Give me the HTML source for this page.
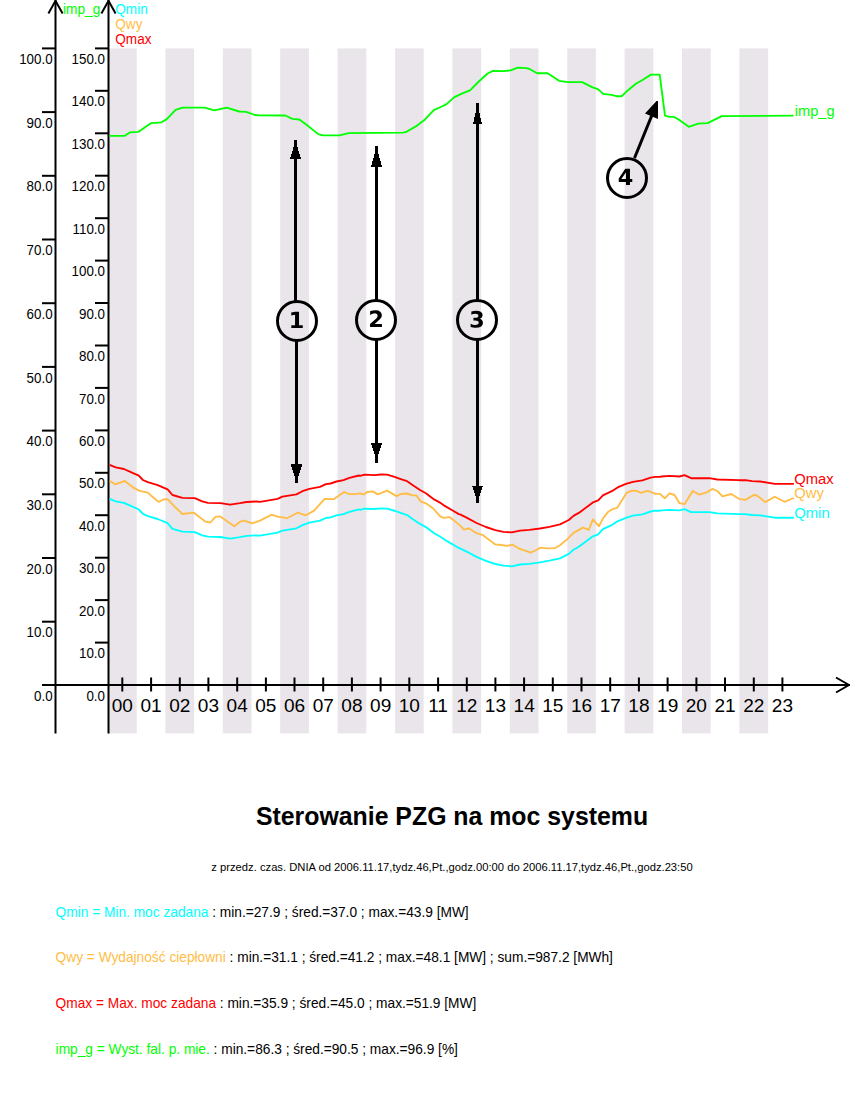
<!DOCTYPE html>
<html><head><meta charset="utf-8"><title>Sterowanie PZG na moc systemu</title>
<style>
html,body{margin:0;padding:0;background:#fff;}
body{width:850px;height:1100px;overflow:hidden;position:relative;font-family:"Liberation Sans",sans-serif;}
svg{position:absolute;left:0;top:0;}
text{font-family:"Liberation Sans",sans-serif;}
</style></head><body>
<svg width="850" height="1100" viewBox="0 0 850 1100">
<defs>
<pattern id="dith" x="0" y="0" width="2" height="2" patternUnits="userSpaceOnUse">
<rect x="0" y="0" width="2" height="2" fill="#ebe6eb"/>
<rect x="0" y="1" width="1" height="1" fill="#e5e3e5"/>
</pattern>
</defs>

<rect x="108.00" y="48.4" width="28.70" height="685.0" fill="url(#dith)"/>
<rect x="165.40" y="48.4" width="28.70" height="685.0" fill="url(#dith)"/>
<rect x="222.80" y="48.4" width="28.70" height="685.0" fill="url(#dith)"/>
<rect x="280.20" y="48.4" width="28.70" height="685.0" fill="url(#dith)"/>
<rect x="337.60" y="48.4" width="28.70" height="685.0" fill="url(#dith)"/>
<rect x="395.00" y="48.4" width="28.70" height="685.0" fill="url(#dith)"/>
<rect x="452.40" y="48.4" width="28.70" height="685.0" fill="url(#dith)"/>
<rect x="509.80" y="48.4" width="28.70" height="685.0" fill="url(#dith)"/>
<rect x="567.20" y="48.4" width="28.70" height="685.0" fill="url(#dith)"/>
<rect x="624.60" y="48.4" width="28.70" height="685.0" fill="url(#dith)"/>
<rect x="682.00" y="48.4" width="28.70" height="685.0" fill="url(#dith)"/>
<rect x="739.40" y="48.4" width="28.70" height="685.0" fill="url(#dith)"/>
<g stroke="#000" stroke-width="2" fill="none">
<line x1="55.5" y1="0" x2="55.5" y2="733.4"/>
<line x1="108.5" y1="0" x2="108.5" y2="733.4"/>
<polyline points="48.4,13.5 55.5,0.8 62.6,13.5"/>
<polyline points="101.4,13.5 108.5,0.8 115.6,13.5"/>
<line x1="42" y1="685.0" x2="850" y2="685.0"/>
<polyline points="836,677.5 849,685 836,692.5"/>
<line x1="42" y1="48.4" x2="55.5" y2="48.4"/>
<line x1="42" y1="112.1" x2="55.5" y2="112.1"/>
<line x1="42" y1="175.8" x2="55.5" y2="175.8"/>
<line x1="42" y1="239.5" x2="55.5" y2="239.5"/>
<line x1="42" y1="303.2" x2="55.5" y2="303.2"/>
<line x1="42" y1="366.9" x2="55.5" y2="366.9"/>
<line x1="42" y1="430.6" x2="55.5" y2="430.6"/>
<line x1="42" y1="494.3" x2="55.5" y2="494.3"/>
<line x1="42" y1="558.0" x2="55.5" y2="558.0"/>
<line x1="42" y1="621.7" x2="55.5" y2="621.7"/>
<line x1="95" y1="48.4" x2="108.5" y2="48.4"/>
<line x1="95" y1="90.8" x2="108.5" y2="90.8"/>
<line x1="95" y1="133.3" x2="108.5" y2="133.3"/>
<line x1="95" y1="175.7" x2="108.5" y2="175.7"/>
<line x1="95" y1="218.2" x2="108.5" y2="218.2"/>
<line x1="95" y1="260.6" x2="108.5" y2="260.6"/>
<line x1="95" y1="303.0" x2="108.5" y2="303.0"/>
<line x1="95" y1="345.5" x2="108.5" y2="345.5"/>
<line x1="95" y1="387.9" x2="108.5" y2="387.9"/>
<line x1="95" y1="430.4" x2="108.5" y2="430.4"/>
<line x1="95" y1="472.8" x2="108.5" y2="472.8"/>
<line x1="95" y1="515.2" x2="108.5" y2="515.2"/>
<line x1="95" y1="557.7" x2="108.5" y2="557.7"/>
<line x1="95" y1="600.1" x2="108.5" y2="600.1"/>
<line x1="95" y1="642.6" x2="108.5" y2="642.6"/>
<line x1="122.3" y1="677.5" x2="122.3" y2="691.5"/>
<line x1="151.1" y1="677.5" x2="151.1" y2="691.5"/>
<line x1="179.8" y1="677.5" x2="179.8" y2="691.5"/>
<line x1="208.4" y1="677.5" x2="208.4" y2="691.5"/>
<line x1="237.2" y1="677.5" x2="237.2" y2="691.5"/>
<line x1="265.9" y1="677.5" x2="265.9" y2="691.5"/>
<line x1="294.5" y1="677.5" x2="294.5" y2="691.5"/>
<line x1="323.2" y1="677.5" x2="323.2" y2="691.5"/>
<line x1="351.9" y1="677.5" x2="351.9" y2="691.5"/>
<line x1="380.6" y1="677.5" x2="380.6" y2="691.5"/>
<line x1="409.3" y1="677.5" x2="409.3" y2="691.5"/>
<line x1="438.1" y1="677.5" x2="438.1" y2="691.5"/>
<line x1="466.8" y1="677.5" x2="466.8" y2="691.5"/>
<line x1="495.4" y1="677.5" x2="495.4" y2="691.5"/>
<line x1="524.1" y1="677.5" x2="524.1" y2="691.5"/>
<line x1="552.8" y1="677.5" x2="552.8" y2="691.5"/>
<line x1="581.5" y1="677.5" x2="581.5" y2="691.5"/>
<line x1="610.2" y1="677.5" x2="610.2" y2="691.5"/>
<line x1="638.9" y1="677.5" x2="638.9" y2="691.5"/>
<line x1="667.6" y1="677.5" x2="667.6" y2="691.5"/>
<line x1="696.4" y1="677.5" x2="696.4" y2="691.5"/>
<line x1="725.0" y1="677.5" x2="725.0" y2="691.5"/>
<line x1="753.8" y1="677.5" x2="753.8" y2="691.5"/>
<line x1="782.4" y1="677.5" x2="782.4" y2="691.5"/>
</g>
<text transform="translate(52.60,64.00) scale(0.9550,1)" x="0" y="0" font-size="14.00" text-anchor="end" fill="#000">100.0</text>
<text transform="translate(52.60,127.70) scale(0.9550,1)" x="0" y="0" font-size="14.00" text-anchor="end" fill="#000">90.0</text>
<text transform="translate(52.60,191.40) scale(0.9550,1)" x="0" y="0" font-size="14.00" text-anchor="end" fill="#000">80.0</text>
<text transform="translate(52.60,255.10) scale(0.9550,1)" x="0" y="0" font-size="14.00" text-anchor="end" fill="#000">70.0</text>
<text transform="translate(52.60,318.80) scale(0.9550,1)" x="0" y="0" font-size="14.00" text-anchor="end" fill="#000">60.0</text>
<text transform="translate(52.60,382.50) scale(0.9550,1)" x="0" y="0" font-size="14.00" text-anchor="end" fill="#000">50.0</text>
<text transform="translate(52.60,446.20) scale(0.9550,1)" x="0" y="0" font-size="14.00" text-anchor="end" fill="#000">40.0</text>
<text transform="translate(52.60,509.90) scale(0.9550,1)" x="0" y="0" font-size="14.00" text-anchor="end" fill="#000">30.0</text>
<text transform="translate(52.60,573.60) scale(0.9550,1)" x="0" y="0" font-size="14.00" text-anchor="end" fill="#000">20.0</text>
<text transform="translate(52.60,637.30) scale(0.9550,1)" x="0" y="0" font-size="14.00" text-anchor="end" fill="#000">10.0</text>
<text transform="translate(52.60,701.00) scale(0.9550,1)" x="0" y="0" font-size="14.00" text-anchor="end" fill="#000">0.0</text>
<text transform="translate(105.00,64.00) scale(0.9550,1)" x="0" y="0" font-size="14.00" text-anchor="end" fill="#000">150.0</text>
<text transform="translate(105.00,106.44) scale(0.9550,1)" x="0" y="0" font-size="14.00" text-anchor="end" fill="#000">140.0</text>
<text transform="translate(105.00,148.88) scale(0.9550,1)" x="0" y="0" font-size="14.00" text-anchor="end" fill="#000">130.0</text>
<text transform="translate(105.00,191.32) scale(0.9550,1)" x="0" y="0" font-size="14.00" text-anchor="end" fill="#000">120.0</text>
<text transform="translate(105.00,233.76) scale(0.9550,1)" x="0" y="0" font-size="14.00" text-anchor="end" fill="#000">110.0</text>
<text transform="translate(105.00,276.20) scale(0.9550,1)" x="0" y="0" font-size="14.00" text-anchor="end" fill="#000">100.0</text>
<text transform="translate(105.00,318.64) scale(0.9550,1)" x="0" y="0" font-size="14.00" text-anchor="end" fill="#000">90.0</text>
<text transform="translate(105.00,361.08) scale(0.9550,1)" x="0" y="0" font-size="14.00" text-anchor="end" fill="#000">80.0</text>
<text transform="translate(105.00,403.52) scale(0.9550,1)" x="0" y="0" font-size="14.00" text-anchor="end" fill="#000">70.0</text>
<text transform="translate(105.00,445.96) scale(0.9550,1)" x="0" y="0" font-size="14.00" text-anchor="end" fill="#000">60.0</text>
<text transform="translate(105.00,488.40) scale(0.9550,1)" x="0" y="0" font-size="14.00" text-anchor="end" fill="#000">50.0</text>
<text transform="translate(105.00,530.84) scale(0.9550,1)" x="0" y="0" font-size="14.00" text-anchor="end" fill="#000">40.0</text>
<text transform="translate(105.00,573.28) scale(0.9550,1)" x="0" y="0" font-size="14.00" text-anchor="end" fill="#000">30.0</text>
<text transform="translate(105.00,615.72) scale(0.9550,1)" x="0" y="0" font-size="14.00" text-anchor="end" fill="#000">20.0</text>
<text transform="translate(105.00,658.16) scale(0.9550,1)" x="0" y="0" font-size="14.00" text-anchor="end" fill="#000">10.0</text>
<text transform="translate(105.00,700.60) scale(0.9550,1)" x="0" y="0" font-size="14.00" text-anchor="end" fill="#000">0.0</text>
<text transform="translate(122.35,711.50) scale(1.0600,1)" x="0" y="0" font-size="18.00" text-anchor="middle" fill="#000">00</text>
<text transform="translate(151.05,711.50) scale(1.0600,1)" x="0" y="0" font-size="18.00" text-anchor="middle" fill="#000">01</text>
<text transform="translate(179.75,711.50) scale(1.0600,1)" x="0" y="0" font-size="18.00" text-anchor="middle" fill="#000">02</text>
<text transform="translate(208.45,711.50) scale(1.0600,1)" x="0" y="0" font-size="18.00" text-anchor="middle" fill="#000">03</text>
<text transform="translate(237.15,711.50) scale(1.0600,1)" x="0" y="0" font-size="18.00" text-anchor="middle" fill="#000">04</text>
<text transform="translate(265.85,711.50) scale(1.0600,1)" x="0" y="0" font-size="18.00" text-anchor="middle" fill="#000">05</text>
<text transform="translate(294.55,711.50) scale(1.0600,1)" x="0" y="0" font-size="18.00" text-anchor="middle" fill="#000">06</text>
<text transform="translate(323.25,711.50) scale(1.0600,1)" x="0" y="0" font-size="18.00" text-anchor="middle" fill="#000">07</text>
<text transform="translate(351.95,711.50) scale(1.0600,1)" x="0" y="0" font-size="18.00" text-anchor="middle" fill="#000">08</text>
<text transform="translate(380.65,711.50) scale(1.0600,1)" x="0" y="0" font-size="18.00" text-anchor="middle" fill="#000">09</text>
<text transform="translate(409.35,711.50) scale(1.0600,1)" x="0" y="0" font-size="18.00" text-anchor="middle" fill="#000">10</text>
<text transform="translate(438.05,711.50) scale(1.0600,1)" x="0" y="0" font-size="18.00" text-anchor="middle" fill="#000">11</text>
<text transform="translate(466.75,711.50) scale(1.0600,1)" x="0" y="0" font-size="18.00" text-anchor="middle" fill="#000">12</text>
<text transform="translate(495.45,711.50) scale(1.0600,1)" x="0" y="0" font-size="18.00" text-anchor="middle" fill="#000">13</text>
<text transform="translate(524.15,711.50) scale(1.0600,1)" x="0" y="0" font-size="18.00" text-anchor="middle" fill="#000">14</text>
<text transform="translate(552.85,711.50) scale(1.0600,1)" x="0" y="0" font-size="18.00" text-anchor="middle" fill="#000">15</text>
<text transform="translate(581.55,711.50) scale(1.0600,1)" x="0" y="0" font-size="18.00" text-anchor="middle" fill="#000">16</text>
<text transform="translate(610.25,711.50) scale(1.0600,1)" x="0" y="0" font-size="18.00" text-anchor="middle" fill="#000">17</text>
<text transform="translate(638.95,711.50) scale(1.0600,1)" x="0" y="0" font-size="18.00" text-anchor="middle" fill="#000">18</text>
<text transform="translate(667.65,711.50) scale(1.0600,1)" x="0" y="0" font-size="18.00" text-anchor="middle" fill="#000">19</text>
<text transform="translate(696.35,711.50) scale(1.0600,1)" x="0" y="0" font-size="18.00" text-anchor="middle" fill="#000">20</text>
<text transform="translate(725.05,711.50) scale(1.0600,1)" x="0" y="0" font-size="18.00" text-anchor="middle" fill="#000">21</text>
<text transform="translate(753.75,711.50) scale(1.0600,1)" x="0" y="0" font-size="18.00" text-anchor="middle" fill="#000">22</text>
<text transform="translate(782.45,711.50) scale(1.0600,1)" x="0" y="0" font-size="18.00" text-anchor="middle" fill="#000">23</text>
<text transform="translate(63.00,13.80) scale(0.9150,1)" x="0" y="0" font-size="15.00" text-anchor="start" fill="#00ff00">imp_g</text>
<text transform="translate(115.30,13.80) scale(0.9500,1)" x="0" y="0" font-size="14.30" text-anchor="start" fill="#00ffff">Qmin</text>
<text transform="translate(115.30,28.80) scale(0.9500,1)" x="0" y="0" font-size="14.30" text-anchor="start" fill="#ffbd46">Qwy</text>
<text transform="translate(115.30,43.90) scale(0.9500,1)" x="0" y="0" font-size="14.30" text-anchor="start" fill="#ff0000">Qmax</text>
<g fill="none" stroke-width="1.85" stroke-linejoin="round">
<polyline stroke="#00ff00" points="109.4,135.9 124.4,135.9 129.7,132.4 138.5,131.8 150.9,123.2 161.5,122.3 166.8,119.1 175.6,109.8 182.6,107.6 204.7,107.6 214.4,110.3 226.8,107.6 239.1,111.5 246.2,111.9 255.0,115.0 259.4,115.3 285.3,115.5 292.4,118.8 299.4,119.5 306.5,124.7 318.2,134.1 322.9,135.3 339.4,135.3 348.8,133.2 402.9,132.6 406.5,131.8 417.1,125.6 424.1,120.3 433.8,110.1 441.8,106.5 446.2,104.4 454.1,97.4 461.2,93.8 470.0,90.3 478.8,81.5 487.6,73.5 492.9,70.9 503.5,71.2 510.6,70.4 517.6,67.7 526.5,68.2 530.0,69.2 537.1,73.2 547.6,73.2 559.1,80.8 567.9,82.1 582.1,82.1 592.6,87.4 597.9,89.1 603.2,93.9 611.2,94.8 616.5,96.2 621.8,96.2 626.2,91.8 635.9,83.8 642.9,79.8 650.9,74.6 659.7,74.6 665.0,115.6 669.4,116.8 673.8,116.8 680.0,120.4 688.8,126.8 698.2,123.7 707.6,123.2 721.8,116.2 793.5,115.7"/>
<polyline stroke="#00ffff" points="109.6,498.8 115.7,501.3 123.9,502.9 131.4,506.2 138.8,509.5 142.9,513.9 147.8,516.1 157.7,519.0 167.6,523.2 172.5,528.9 182.4,531.7 194.8,532.1 202.2,535.3 207.9,536.7 220.3,537.0 230.2,538.6 240.0,537.1 246.6,535.9 256.5,535.4 260.0,535.7 277.6,532.7 282.4,530.6 296.5,528.3 302.4,525.1 309.4,522.7 320.0,520.7 325.9,518.0 330.6,517.4 336.5,515.4 343.5,514.1 349.4,511.8 358.8,509.4 360.0,509.8 364.7,508.6 374.1,509.0 381.2,508.4 387.1,508.6 395.3,511.0 400.0,512.7 407.1,515.1 412.9,519.2 420.0,523.9 425.9,527.1 434.1,533.3 440.0,536.5 444.7,539.8 451.8,543.9 458.8,548.0 460.0,548.3 467.1,551.8 476.5,556.9 485.9,560.9 495.3,564.0 503.5,565.7 511.8,566.3 520.0,564.5 529.4,563.8 540.0,562.4 549.4,560.7 560.0,558.3 568.8,553.9 573.5,549.8 578.8,546.8 583.5,543.3 592.9,536.3 598.2,534.3 602.9,529.2 611.8,525.1 617.6,521.3 625.9,517.8 632.9,515.7 642.4,514.3 650.6,511.5 655.3,510.7 660.0,510.7 661.4,510.4 669.6,509.8 679.5,510.4 684.5,509.1 691.1,512.1 696.0,512.1 709.2,512.1 717.4,513.4 738.8,514.1 745.4,514.1 752.0,515.0 760.2,515.4 774.8,517.7 793.9,517.7"/>
<polyline stroke="#ffbd46" points="109.6,480.9 114.9,484.3 124.8,481.0 133.8,487.9 139.6,490.9 147.8,492.6 153.6,497.8 158.5,501.9 163.5,499.5 167.6,499.1 174.2,506.1 182.4,514.0 193.9,512.7 205.5,521.7 210.4,522.5 215.4,516.8 220.3,516.4 234.3,526.2 240.1,521.7 244.1,520.6 252.4,523.4 260.0,520.6 271.8,514.7 277.6,516.7 287.1,518.2 297.6,512.7 305.9,515.3 314.1,510.6 324.7,498.8 334.1,499.1 344.1,492.0 349.4,494.1 354.1,494.1 358.8,493.6 360.0,493.5 364.1,494.4 367.1,492.0 372.9,491.4 377.6,494.4 387.1,490.6 396.5,496.1 401.2,493.9 407.1,493.5 411.8,495.1 416.5,495.5 420.6,501.4 425.9,503.3 432.9,508.2 440.0,516.2 443.5,517.9 449.4,517.1 454.1,520.6 460.0,525.4 464.1,529.7 468.8,528.3 476.5,533.2 482.4,534.8 495.3,544.4 501.2,545.0 507.1,545.9 512.4,544.6 518.8,548.5 525.9,550.9 530.6,552.6 535.3,550.5 540.6,547.6 547.1,548.3 554.7,548.2 560.0,545.3 567.1,539.4 573.5,532.9 582.9,527.6 588.8,529.8 592.9,519.4 598.8,526.2 603.5,517.6 608.2,511.8 613.5,508.8 617.1,507.9 626.5,492.9 631.8,490.6 636.5,490.9 641.2,492.9 647.1,490.9 650.6,491.8 655.3,493.9 660.0,493.9 664.7,498.3 669.6,493.3 674.6,495.0 679.5,503.2 684.5,504.2 692.7,491.0 699.3,494.6 705.9,492.7 712.5,488.9 717.4,491.0 722.4,496.3 731.4,494.0 738.8,498.8 745.4,499.9 753.7,495.0 757.0,495.5 765.3,502.1 774.8,496.8 784.4,501.8 793.9,498.0"/>
<polyline stroke="#ff0000" points="109.6,464.9 115.7,467.4 123.9,469.0 131.4,472.3 138.8,475.6 142.9,480.0 147.8,482.2 157.7,485.1 167.6,489.3 172.5,495.0 182.4,497.8 194.8,498.2 202.2,501.4 207.9,502.8 220.3,503.1 230.2,504.7 240.0,503.2 246.6,502.0 256.5,501.5 260.0,501.8 277.6,498.8 282.4,496.7 296.5,494.4 302.4,491.2 309.4,488.8 320.0,486.8 325.9,484.1 330.6,483.5 336.5,481.5 343.5,480.2 349.4,477.9 358.8,475.5 360.0,475.9 364.7,474.7 374.1,475.1 381.2,474.5 387.1,474.7 395.3,477.1 400.0,478.8 407.1,481.2 412.9,485.3 420.0,490.0 425.9,493.2 434.1,499.4 440.0,502.6 444.7,505.9 451.8,510.0 458.8,514.1 460.0,514.4 467.1,517.9 476.5,523.0 485.9,527.0 495.3,530.1 503.5,531.8 511.8,532.4 520.0,530.6 529.4,529.9 540.0,528.5 549.4,526.8 560.0,524.4 568.8,520.0 573.5,515.9 578.8,512.9 583.5,509.4 592.9,502.4 598.2,500.4 602.9,495.3 611.8,491.2 617.6,487.4 625.9,483.9 632.9,481.8 642.4,480.4 650.6,477.6 655.3,476.8 660.0,476.8 661.4,476.5 669.6,475.9 679.5,476.5 684.5,475.2 691.1,478.2 696.0,478.2 709.2,478.2 717.4,479.5 738.8,480.2 745.4,480.2 752.0,481.1 760.2,481.5 774.8,483.8 793.9,483.8"/>
</g>
<text transform="translate(794.80,115.90) scale(0.9600,1)" x="0" y="0" font-size="15.20" text-anchor="start" fill="#00ff00">imp_g</text>
<text transform="translate(794.30,483.80) scale(0.9550,1)" x="0" y="0" font-size="15.50" text-anchor="start" fill="#ff0000">Qmax</text>
<text transform="translate(794.30,497.60) scale(0.9550,1)" x="0" y="0" font-size="15.50" text-anchor="start" fill="#ffbd46">Qwy</text>
<text transform="translate(794.30,517.90) scale(0.9550,1)" x="0" y="0" font-size="15.50" text-anchor="start" fill="#00ffff">Qmin</text>
<line x1="295.5" y1="159.0" x2="295.5" y2="301.5" stroke="#000" stroke-width="3"/>
<line x1="296.5" y1="340.5" x2="296.5" y2="464.0" stroke="#000" stroke-width="3"/>
<polygon fill="#000" shape-rendering="crispEdges" points="294.0,140.0 297.0,140.0 297.0,145.5 301.0,159.0 290.0,159.0 294.0,145.5"/>
<polygon fill="#000" shape-rendering="crispEdges" points="295.0,483.0 298.0,483.0 298.0,477.0 302.5,464.0 290.5,464.0 295.0,477.0"/>
<line x1="376.5" y1="167.0" x2="376.5" y2="300.5" stroke="#000" stroke-width="3"/>
<line x1="376.5" y1="339.5" x2="376.5" y2="443.0" stroke="#000" stroke-width="3"/>
<polygon fill="#000" shape-rendering="crispEdges" points="375.0,146.0 378.0,146.0 378.0,152.0 382.0,167.0 371.0,167.0 375.0,152.0"/>
<polygon fill="#000" shape-rendering="crispEdges" points="375.0,463.0 378.0,463.0 378.0,456.0 382.0,443.0 371.0,443.0 375.0,456.0"/>
<line x1="477.5" y1="124.0" x2="477.5" y2="300.5" stroke="#000" stroke-width="3"/>
<line x1="477.5" y1="339.5" x2="477.5" y2="486.0" stroke="#000" stroke-width="3"/>
<polygon fill="#000" shape-rendering="crispEdges" points="476.0,103.0 479.0,103.0 479.0,111.0 482.0,124.0 473.0,124.0 476.0,111.0"/>
<polygon fill="#000" shape-rendering="crispEdges" points="476.0,503.0 479.0,503.0 479.0,497.0 482.9,486.0 472.1,486.0 476.0,497.0"/>
<g fill="none" stroke="#000" stroke-width="3">
<circle cx="297" cy="321" r="19.5"/>
<circle cx="376" cy="320" r="19.5"/>
<circle cx="477" cy="320" r="19.5"/>
<circle cx="627" cy="178" r="19.5"/>
<line x1="634.5" y1="158" x2="652" y2="115"/>
</g>
<polygon fill="#000" points="656.5,101 658,101 658,119 645,113.5"/>
<path fill="#000" transform="translate(288.71,328.10) scale(0.01094,-0.01094)" d="M240 266H580V1231L231 1159V1421L578 1493H944V266H1284V0H240Z"/>
<path fill="#000" transform="translate(368.29,327.00) scale(0.01094,-0.01094)" d="M590 283H1247V0H162V283L707 764Q780 830 815.0 893.0Q850 956 850 1024Q850 1129 779.5 1193.0Q709 1257 592 1257Q502 1257 395.0 1218.5Q288 1180 166 1104V1432Q296 1475 423.0 1497.5Q550 1520 672 1520Q940 1520 1088.5 1402.0Q1237 1284 1237 1073Q1237 951 1174.0 845.5Q1111 740 909 563Z"/>
<path fill="#000" transform="translate(469.15,327.50) scale(0.01094,-0.01094)" d="M954 805Q1105 766 1183.5 669.5Q1262 573 1262 424Q1262 202 1092.0 86.5Q922 -29 596 -29Q481 -29 365.5 -10.5Q250 8 137 45V342Q245 288 351.5 260.5Q458 233 561 233Q714 233 795.5 286.0Q877 339 877 438Q877 540 793.5 592.5Q710 645 547 645H393V893H555Q700 893 771.0 938.5Q842 984 842 1077Q842 1163 773.0 1210.0Q704 1257 578 1257Q485 1257 390.0 1236.0Q295 1215 201 1174V1456Q315 1488 427.0 1504.0Q539 1520 647 1520Q938 1520 1082.5 1424.5Q1227 1329 1227 1137Q1227 1006 1158.0 922.5Q1089 839 954 805Z"/>
<path fill="#000" transform="translate(617.72,185.00) scale(0.01094,-0.01094)" d="M754 1176 332 551H754ZM690 1493H1118V551H1331V272H1118V0H754V272H92V602Z"/>
<text transform="translate(452.00,824.90) scale(0.9750,1)" x="0" y="0" font-size="25.50" text-anchor="middle" fill="#000" font-weight="bold">Sterowanie PZG na moc systemu</text>
<text transform="translate(452.00,871.20) scale(0.9850,1)" x="0" y="0" font-size="11.40" text-anchor="middle" fill="#000">z przedz. czas. DNIA od 2006.11.17,tydz.46,Pt.,godz.00:00 do 2006.11.17,tydz.46,Pt.,godz.23:50</text>
<text transform="translate(55.60,916.50) scale(0.9600,1)" x="0" y="0" font-size="14.30" text-anchor="start" fill="#000"><tspan fill="#00ffff">Qmin = Min. moc zadana</tspan> : min.=27.9 ; śred.=37.0 ; max.=43.9 [MW]</text>
<text transform="translate(55.60,962.30) scale(0.9600,1)" x="0" y="0" font-size="14.30" text-anchor="start" fill="#000"><tspan fill="#ffbd46">Qwy = Wydajność ciepłowni</tspan> : min.=31.1 ; śred.=41.2 ; max.=48.1 [MW] ; sum.=987.2 [MWh]</text>
<text transform="translate(55.60,1008.00) scale(0.9600,1)" x="0" y="0" font-size="14.30" text-anchor="start" fill="#000"><tspan fill="#ff0000">Qmax = Max. moc zadana</tspan> : min.=35.9 ; śred.=45.0 ; max.=51.9 [MW]</text>
<text transform="translate(55.60,1053.80) scale(0.9600,1)" x="0" y="0" font-size="14.30" text-anchor="start" fill="#000"><tspan fill="#00ff00">imp_g = Wyst. fal. p. mie.</tspan> : min.=86.3 ; śred.=90.5 ; max.=96.9 [%]</text>
</svg></body></html>
